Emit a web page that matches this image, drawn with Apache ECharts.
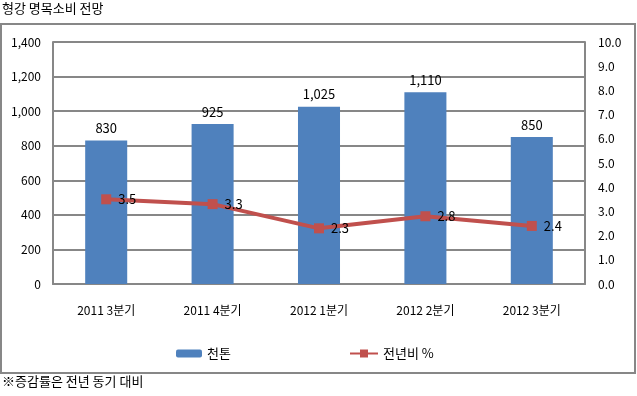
<!DOCTYPE html>
<html><head><meta charset="utf-8">
<script src="https://cdn.jsdelivr.net/npm/echarts@6/dist/echarts.min.js"></script>
<style>html,body{margin:0;padding:0;background:#fff}#c{width:637px;height:396px}</style>
</head><body><div id="c"></div>
<script>
var categories = ['2011 3분기', '2011 4분기', '2012 1분기', '2012 2분기', '2012 3분기'];
var tonnage = [830, 925, 1025, 1110, 850];
var yoyPct = [3.5, 3.3, 2.3, 2.8, 2.4];
var seriesNames = ['천톤', '전년비 %'];
var titleText = '형강 명목소비 전망';
var noteText = '※증감률은 전년 동기 대비';

var FONT = '"Noto Sans CJK KR", "DejaVu Sans", sans-serif';
var GRID = '#878787';
var chart = echarts.init(document.getElementById('c'));
chart.setOption({
  animation: false,
  textStyle: { fontFamily: FONT },
  graphic: [
    { type: 'rect', shape: { x: 1, y: 24, width: 634, height: 349 },
      style: { fill: 'none', stroke: GRID, lineWidth: 2 }, z: 0 },
    { type: 'text', left: 2, top: 2,
      style: { text: titleText, fontSize: 13, fill: '#000', fontFamily: FONT } },
    { type: 'text', left: 2, top: 375,
      style: { text: noteText, fontSize: 13, fill: '#000', fontFamily: FONT } }
  ],
  legend: [
    { left: 171, top: 342, data: [seriesNames[0]], itemWidth: 26, itemHeight: 8, itemGap: 6,
      textStyle: { fontSize: 13, color: '#000', fontFamily: FONT } },
    { left: 344, top: 342, data: [seriesNames[1]], itemWidth: 28, itemHeight: 10, itemGap: 6,
      textStyle: { fontSize: 13, color: '#000', fontFamily: FONT } }
  ],
  grid: { left: 53, right: 52, top: 42, bottom: 112 },
  xAxis: {
    type: 'category', data: categories,
    axisLine: { lineStyle: { color: GRID, width: 2 } },
    axisTick: { show: false },
    axisLabel: { color: '#000', fontSize: 12, margin: 20, fontFamily: FONT }
  },
  yAxis: [
    { type: 'value', min: 0, max: 1400, interval: 200,
      axisLine: { show: true, lineStyle: { color: GRID, width: 2 } },
      axisTick: { show: false },
      splitLine: { lineStyle: { color: GRID, width: 2 } },
      axisLabel: { color: '#000', fontSize: 12, margin: 12,
        formatter: function (v) { return v.toLocaleString('en-US'); } } },
    { type: 'value', min: 0, max: 10, interval: 1,
      axisLine: { show: true, lineStyle: { color: GRID, width: 2 } },
      axisTick: { show: false },
      splitLine: { show: false },
      axisLabel: { color: '#000', fontSize: 12, margin: 13,
        formatter: function (v) { return v.toFixed(1); } } }
  ],
  series: [
    { name: seriesNames[0], type: 'bar', data: tonnage, barWidth: '39.5%',
      itemStyle: { color: '#4F81BD' },
      label: { show: true, position: 'top', distance: 6, color: '#000', fontSize: 13,
        formatter: function (p) { return p.value.toLocaleString('en-US'); } } },
    { name: seriesNames[1], type: 'line', yAxisIndex: 1, data: yoyPct,
      symbol: 'rect', symbolSize: 10,
      lineStyle: { color: '#C0504D', width: 4 },
      itemStyle: { color: '#C0504D' },
      label: { show: true, position: 'right', distance: 7, color: '#000', fontSize: 13,
        formatter: function (p) { return p.value.toFixed(1); } } }
  ]
});
</script></body></html>
